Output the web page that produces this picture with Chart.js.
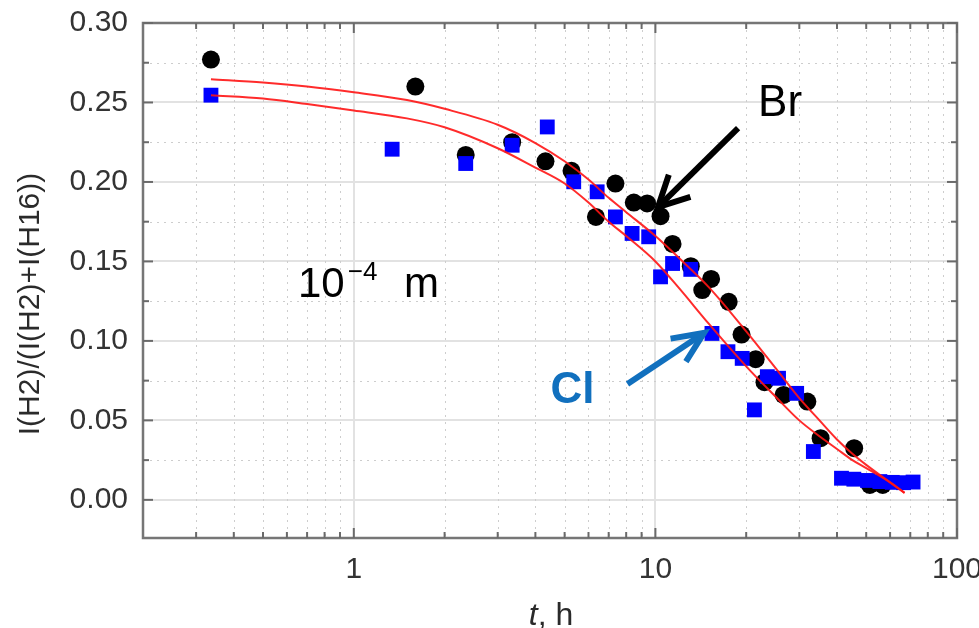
<!DOCTYPE html>
<html><head><meta charset="utf-8">
<script src="https://cdn.jsdelivr.net/npm/chart.js@4"></script>
<style>
html,body{margin:0;padding:0;background:#fff;overflow:hidden;width:979px;height:628px}
#wrap{position:absolute;left:0;top:0;width:1000px;height:628px}
</style>
</head><body><div id="wrap"><canvas id="c"></canvas></div>
<script>
// ---- data ----
const brTime  = [0.336, 1.60, 2.35, 3.35, 4.32, 5.27, 6.35, 7.37, 8.48, 9.39, 10.4, 11.4, 13.1, 14.3, 15.3, 17.5, 19.3, 21.5, 23.0, 26.6, 31.9, 35.3, 45.6, 51.4, 56.7];
const brRatio = [0.277, 0.260, 0.217, 0.225, 0.213, 0.207, 0.178, 0.199, 0.187, 0.1865, 0.1785, 0.161, 0.147, 0.132, 0.139, 0.1246, 0.104, 0.0885, 0.074, 0.066, 0.0618, 0.0388, 0.0325, 0.0094, 0.0094];

const clTime  = [0.336, 1.34, 2.35, 3.35, 4.38, 5.36, 6.41, 7.37, 8.37, 9.5, 10.4, 11.4, 13.1, 15.4, 17.4, 19.4, 21.3, 23.5, 25.6, 29.4, 33.4, 41.4, 45.5, 50.5, 55.5, 61, 66.5, 71.5];
const clRatio = [0.2546, 0.2206, 0.2116, 0.2231, 0.2346, 0.2001, 0.1938, 0.178, 0.1676, 0.1655, 0.1403, 0.1487, 0.145, 0.1047, 0.0932, 0.089, 0.0566, 0.0775, 0.0765, 0.067, 0.0304, 0.0136, 0.013, 0.0122, 0.0115, 0.011, 0.0108, 0.0112];

const fitTime    = [0.336, 0.5, 0.7, 1, 1.5, 2, 3, 4, 5, 6, 7, 8, 10, 12, 15, 20, 25, 30, 35, 40, 45, 50, 60, 67];
const brFitRatio = [0.2646, 0.2625, 0.260, 0.2564, 0.2515, 0.246, 0.236, 0.2245, 0.213, 0.2015, 0.190, 0.181, 0.166, 0.152, 0.134, 0.106, 0.083, 0.064, 0.050, 0.038, 0.029, 0.022, 0.011, 0.0044];
const clFitRatio = [0.2546, 0.2525, 0.249, 0.245, 0.240, 0.2344, 0.2212, 0.209, 0.199, 0.187, 0.175, 0.166, 0.150, 0.133, 0.111, 0.084, 0.065, 0.050, 0.040, 0.032, 0.025, 0.020, 0.011, 0.0044];

const xTickValues  = [1, 10, 100];
const xTickLabels  = ['1', '10', '100'];
const xMinorValues = [0.3,0.4,0.5,0.6,0.7,0.8,0.9, 2,3,4,5,6,7,8,9, 20,30,40,50,60,70,80,90];
const yTickValues  = [0, 0.05, 0.10, 0.15, 0.20, 0.25, 0.30];
const yTickLabels  = ['0.00','0.05','0.10','0.15','0.20','0.25','0.30'];
const yMinorValues = [0.025, 0.075, 0.125, 0.175, 0.225, 0.275];

const yTitle = 'I(H2)/(I(H2)+I(H16))';
const labelBr = 'Br';
const labelCl = 'Cl';

// annotation anchors in data coordinates
const annot = {
  brText: {t: 25.9, v: 0.2489},
  clText: {t: 5.31, v: 0.0685},
  scaleText: {t: 0.653, v: 0.1276},
  brArrow: {from: {t: 18.8, v: 0.2338}, to: {t: 10.2, v: 0.1842}},
  clArrow: {from: {t: 8.08, v: 0.0729}, to: {t: 14.5, v: 0.105}}
};

const FONT = "'Liberation Sans', Arial, Helvetica, sans-serif";

function pts(xs, ys){ return xs.map((x,i)=>({x:x, y:ys[i]})); }

function arrow(ctx, x1, y1, x2, y2, color, lw, headLen, headAng){
  ctx.save();
  ctx.strokeStyle = color; ctx.lineWidth = lw; ctx.lineCap = 'butt'; ctx.lineJoin = 'miter';
  ctx.beginPath(); ctx.moveTo(x1,y1); ctx.lineTo(x2,y2); ctx.stroke();
  const ang = Math.atan2(y1-y2, x1-x2);
  ctx.beginPath();
  ctx.moveTo(x2 + headLen*Math.cos(ang+headAng), y2 + headLen*Math.sin(ang+headAng));
  ctx.lineTo(x2, y2);
  ctx.lineTo(x2 + headLen*Math.cos(ang-headAng), y2 + headLen*Math.sin(ang-headAng));
  ctx.stroke();
  ctx.restore();
}

const decor = {
  id: 'decor',
  beforeDatasetsDraw(chart){
    const {ctx, chartArea:a, scales:{x, y}} = chart;
    ctx.save();
    ctx.strokeStyle = '#cdcdcd'; ctx.lineWidth = 1; ctx.setLineDash([2,5]);
    xMinorValues.forEach(v => {
      const px = Math.round(x.getPixelForValue(v)) + 0.5;
      ctx.beginPath(); ctx.moveTo(px, a.top); ctx.lineTo(px, a.bottom); ctx.stroke();
    });
    yMinorValues.forEach(v => {
      const py = Math.round(y.getPixelForValue(v)) + 0.5;
      ctx.beginPath(); ctx.moveTo(a.left, py); ctx.lineTo(a.right, py); ctx.stroke();
    });
    ctx.restore();
  },
  afterDraw(chart){
    const {ctx, chartArea:a, scales:{x, y}} = chart;
    const P = (o) => [x.getPixelForValue(o.t), y.getPixelForValue(o.v)];
    ctx.save();
    // frame
    ctx.strokeStyle = '#767676'; ctx.lineWidth = 2.5;
    ctx.strokeRect(a.left, a.top, a.right - a.left, a.bottom - a.top);
    // inward ticks
    ctx.lineWidth = 2; ctx.strokeStyle = '#6a6a6a';
    const tick = (x1,y1,x2,y2) => { ctx.beginPath(); ctx.moveTo(x1,y1); ctx.lineTo(x2,y2); ctx.stroke(); };
    yTickValues.forEach(v => { const py = y.getPixelForValue(v); tick(a.left, py, a.left+10, py); tick(a.right, py, a.right-10, py); });
    yMinorValues.forEach(v => { const py = y.getPixelForValue(v); tick(a.left, py, a.left+6, py); tick(a.right, py, a.right-6, py); });
    xTickValues.forEach(v => { const px = x.getPixelForValue(v); tick(px, a.bottom, px, a.bottom-10); tick(px, a.top, px, a.top+10); });
    xMinorValues.forEach(v => { const px = x.getPixelForValue(v); tick(px, a.bottom, px, a.bottom-6); tick(px, a.top, px, a.top+6); });

    // y title
    ctx.save();
    ctx.translate(31, 304); ctx.rotate(-Math.PI/2);
    ctx.font = '30px ' + FONT; ctx.fillStyle = '#2a2a2a';
    ctx.textAlign = 'center'; ctx.textBaseline = 'middle';
    ctx.fillText(yTitle, 0, 0);
    ctx.restore();

    // x title: italic t + ", h"
    ctx.save();
    ctx.fillStyle = '#2a2a2a'; ctx.textBaseline = 'middle'; ctx.textAlign = 'left';
    const fi = 'italic 32px ' + FONT, fn = '32px ' + FONT;
    ctx.font = fi; const wt = ctx.measureText('t').width;
    ctx.font = fn; const wr = ctx.measureText(', h').width;
    const cx = (a.left + a.right)/2 + 1, x0 = cx - (wt + wr)/2, ty = 616;
    ctx.font = fi; ctx.fillText('t', x0, ty);
    ctx.font = fn; ctx.fillText(', h', x0 + wt, ty);
    ctx.restore();

    // annotations
    ctx.fillStyle = '#000'; ctx.textAlign = 'center'; ctx.textBaseline = 'middle';
    ctx.font = '44px ' + FONT;
    let p = P(annot.brText); ctx.fillText(labelBr, p[0], p[1]);

    ctx.fillStyle = '#1170be'; ctx.font = 'bold 44px ' + FONT;
    p = P(annot.clText); ctx.fillText(labelCl, p[0], p[1]);

    // 10^-4 m
    ctx.fillStyle = '#000'; ctx.textAlign = 'left'; ctx.textBaseline = 'alphabetic';
    p = P(annot.scaleText);
    ctx.font = '42px ' + FONT; ctx.fillText('10', p[0], p[1]);
    const w10 = ctx.measureText('10').width;
    ctx.font = '26px ' + FONT; ctx.fillText('\u22124', p[0] + w10 + 3, p[1] - 17);
    ctx.font = '42px ' + FONT; ctx.fillText('m', p[0] + 106, p[1]);

    // arrows
    let f = P(annot.brArrow.from), t = P(annot.brArrow.to);
    arrow(ctx, f[0], f[1], t[0], t[1], '#000', 6, 34, 0.47);
    f = P(annot.clArrow.from); t = P(annot.clArrow.to);
    arrow(ctx, f[0], f[1], t[0], t[1], '#1170be', 6, 34, 0.42);
    ctx.restore();
  }
};

new Chart(document.getElementById('c'), {
  type: 'scatter',
  data: {
    datasets: [
      { type:'line', label:'Br fit', data: pts(fitTime, brFitRatio), borderColor:'rgba(255,20,20,0.9)', borderWidth:2, pointRadius:0, cubicInterpolationMode:'monotone', fill:false },
      { type:'line', label:'Cl fit', data: pts(fitTime, clFitRatio), borderColor:'rgba(255,20,20,0.9)', borderWidth:2, pointRadius:0, cubicInterpolationMode:'monotone', fill:false },
      { label:'Cl', data: pts(clTime, clRatio), pointStyle:'rect', pointRadius:10.5, pointBackgroundColor:'#0000ff', pointBorderWidth:0, borderColor:'#0000ff' },
      { label:'Br', data: pts(brTime, brRatio), pointStyle:'circle', pointRadius:9, pointBackgroundColor:'#000000', pointBorderWidth:0, borderColor:'#000' }
    ]
  },
  options: {
    responsive: true, maintainAspectRatio: false, animation: false,
    layout: { padding: { left: 0, top: 23, right: 43, bottom: 0 } },
    plugins: { legend: { display:false }, tooltip: { enabled:false } },
    scales: {
      x: {
        type: 'logarithmic', min: 0.2, max: 100,
        afterBuildTicks: s => { s.ticks = xTickValues.map(v => ({value: v})); },
        afterFit: s => { s.height = 90; s.paddingLeft = 0; s.paddingRight = 0; },
        ticks: { autoSkip:false, maxRotation:0, padding: 14, color:'#333', font:{ family: FONT, size: 30 },
                 callback: (v) => { const i = xTickValues.indexOf(v); return i >= 0 ? xTickLabels[i] : ''; } },
        grid: { color:'#e2e2e2', lineWidth: 2, drawTicks:false },
        border: { display:false }
      },
      y: {
        type: 'linear', min: -0.024, max: 0.30,
        afterBuildTicks: s => { s.ticks = yTickValues.map(v => ({value: v})); },
        afterFit: s => { s.width = 143; s.paddingTop = 0; s.paddingBottom = 0; },
        ticks: { autoSkip:false, padding: 15, color:'#333', font:{ family: FONT, size: 30 },
                 callback: (v) => { const i = yTickValues.findIndex(u => Math.abs(u - v) < 1e-9); return i >= 0 ? yTickLabels[i] : ''; } },
        grid: { color:'#e2e2e2', lineWidth: 2, drawTicks:false },
        border: { display:false }
      }
    }
  },
  plugins: [decor]
});
</script>
</body></html>
